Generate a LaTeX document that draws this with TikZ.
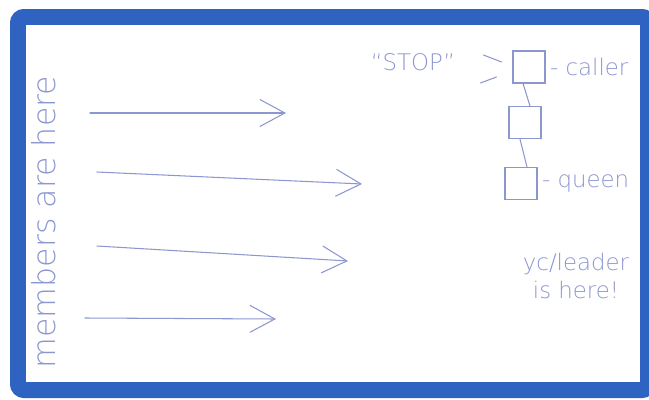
\documentclass[tikz,border=0pt]{standalone}
\usepackage{fontspec}
\usetikzlibrary{arrows.meta,positioning}
\newfontfamily\hand{DejaVu Sans ExtraLight}
\definecolor{frameblue}{HTML}{2E63C2}
\definecolor{inkblue}{HTML}{8C96CF}

\begin{document}
\begin{tikzpicture}[x=0.02cm, y=-0.02cm,
  node distance=4.5mm,
  frame/.style={draw=frameblue, line width=0.32cm, rounded corners=0.12cm},
  ink/.style={draw=inkblue, line width=0.6pt, line cap=round},
  arr/.style={ink, -{Straight Barb[length=5mm, width=5.4mm]}},
  sq/.style={ink, minimum size=0.64cm, inner sep=0pt},
  lbl/.style={text=inkblue, font=\hand\fontsize{13}{15.5}\selectfont, inner sep=1pt},
  big/.style={text=inkblue, font=\hand\fontsize{18}{20}\selectfont}]
  \useasboundingbox (0,0) rectangle (649,399);
  \draw[frame] (18,17) rectangle (648,390);
  % members side
  \node[big, rotate=90] (members) at (44,222) {members are here};
  \coordinate (s1) at (90,113);  \coordinate (e1) at (286,113);
  \coordinate (s2) at (97,172);  \coordinate (e2) at (362,184);
  \coordinate (s3) at (97,246);  \coordinate (e3) at (348,261);
  \coordinate (s4) at (85,318);  \coordinate (e4) at (276,319);
  \draw[arr] (s1) -- (e1);
  \draw[arr] (s2) -- (e2);
  \draw[arr] (s3) -- (e3);
  \draw[arr] (s4) -- (e4);
  % queue
  \node[sq] (caller) at (529,67) {};
  \node[sq, below=of caller, xshift=-0.08cm] (mid) {};
  \node[sq, below=5.6mm of mid, xshift=-0.08cm] (queen) {};
  \draw[ink] ([xshift=-0.12cm]caller.south) -- ([xshift=0.1cm]mid.north);
  \draw[ink] ([xshift=-0.1cm]mid.south) -- ([xshift=0.12cm]queen.north);
  \node[lbl, right=0.5mm of caller] (callerlbl) {- caller};
  \node[lbl, right=0.5mm of queen] (queenlbl) {- queen};
  \node[lbl] (stop) at (413,62) {“STOP”};
  \draw[ink] ([shift={(-29,-12)}]caller.west) -- ([shift={(-11,-5)}]caller.west);
  \draw[ink] ([shift={(-32,16)}]caller.west) -- ([shift={(-16,10)}]caller.west);
  \node[lbl, align=center] (leader) at (576,276) {yc/leader\\is here!};
\end{tikzpicture}
\end{document}
